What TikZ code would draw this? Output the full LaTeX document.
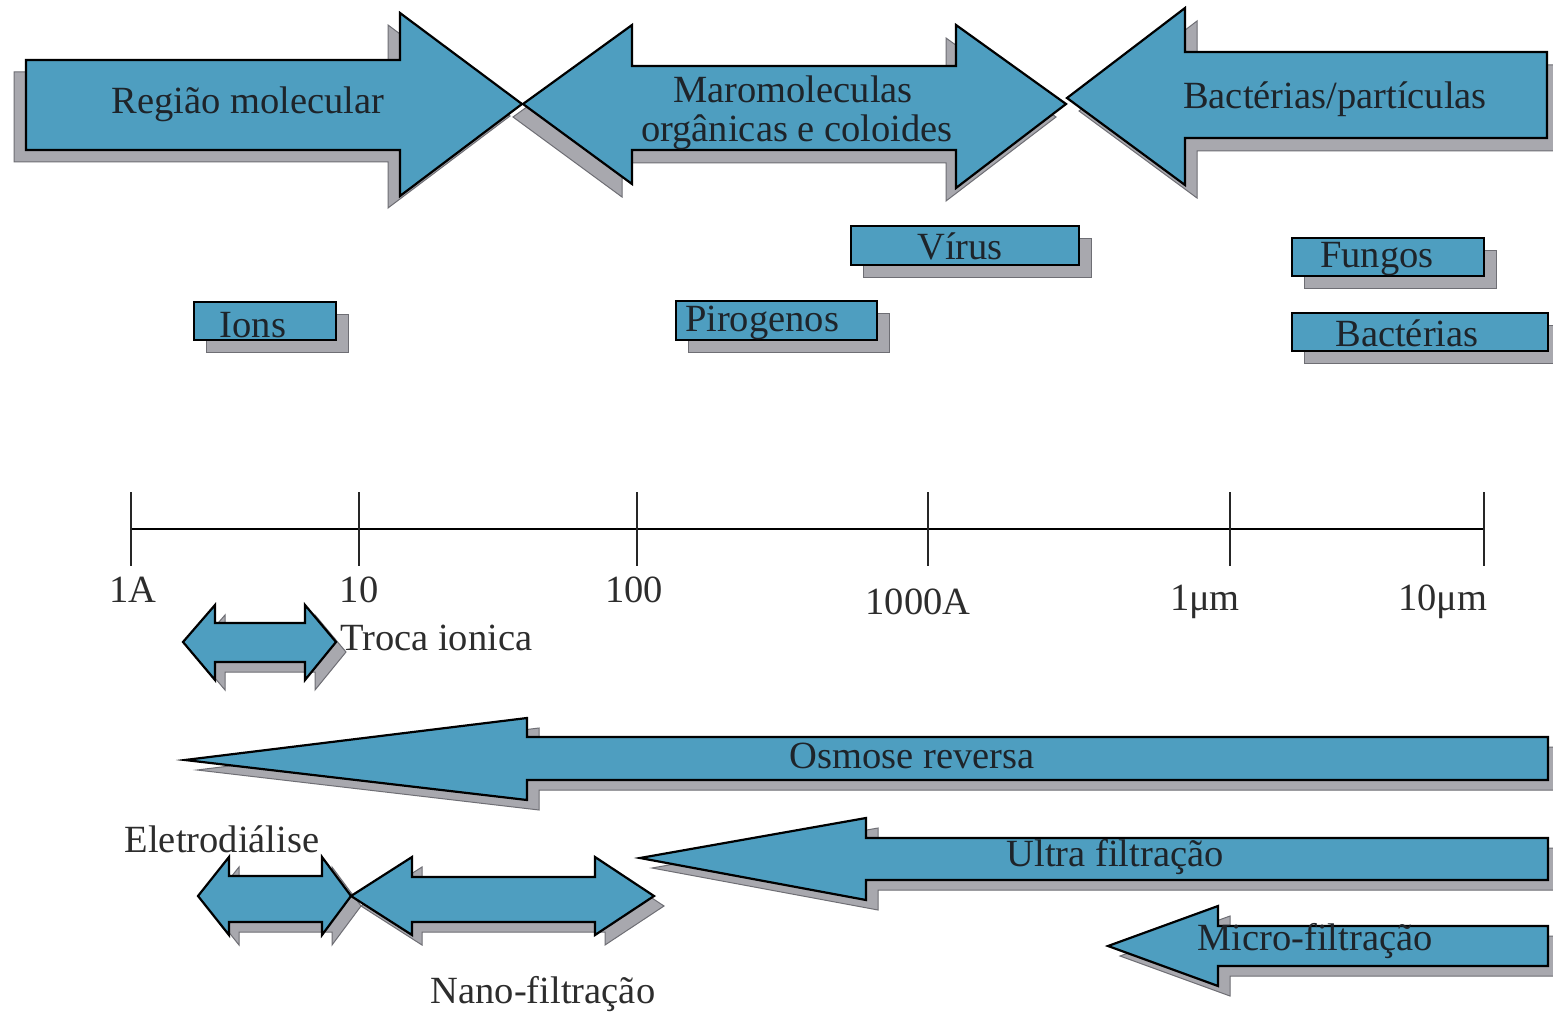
\documentclass[tikz,border=0pt]{standalone}
\usepackage{fontspec}
\setmainfont{Liberation Serif}
\definecolor{fillblue}{RGB}{78,158,192}
\definecolor{shadegray}{RGB}{168,168,174}
\definecolor{shadeline}{RGB}{110,110,116}
\definecolor{txtdark}{RGB}{30,36,42}
\definecolor{txtgray}{RGB}{45,45,45}
\newcommand\shadowedshape[2]{%
  \filldraw[shadegray, draw=shadeline, line width=1pt, shift={#1}] #2;
}
\newcommand\mainshape[1]{%
  \filldraw[fill=fillblue, draw=black, line width=2.2pt, line join=miter] #1;
}
\tikzset{
  lbl/.style={font=\fontsize{38.5}{40}\selectfont, text=txtdark, inner sep=0pt},
  plainlbl/.style={font=\fontsize{38.5}{40}\selectfont, text=txtgray, inner sep=0pt},
  axisline/.style={line width=1.8pt, black},
  tickline/.style={line width=1.2pt, black!85}
}
\begin{document}
\begin{tikzpicture}[x=1pt,y=-1pt]
\useasboundingbox (0,0) rectangle (1553,1014);
\fill[white] (0,0) rectangle (1553,1014);

% ---------- shadows ----------
\shadowedshape{(-12,12)}{(26,60) -- (400,60) -- (400,13) -- (522,104) -- (400,196) -- (400,150) -- (26,150) -- cycle}
\shadowedshape{(-10,13)}{(523,104) -- (632,25) -- (632,66) -- (956,66) -- (956,25) -- (1066,104) -- (956,188) -- (956,150) -- (632,150) -- (632,184) -- cycle}
\shadowedshape{(12,13)}{(1067,98) -- (1185,8) -- (1185,52) -- (1547,52) -- (1547,138) -- (1185,138) -- (1185,185) -- cycle}
\shadowedshape{(12,12)}{(194,302) rectangle (336,340)}
\shadowedshape{(12,12)}{(676,301) rectangle (877,340)}
\shadowedshape{(12,12)}{(851,226) rectangle (1079,265)}
\shadowedshape{(12,12)}{(1292,238) rectangle (1484,276)}
\shadowedshape{(12,12)}{(1292,313) rectangle (1548,351)}
\shadowedshape{(10,10)}{(183,642) -- (215,605) -- (215,623) -- (305,623) -- (305,605) -- (336,642) -- (305,680) -- (305,662) -- (215,662) -- (215,680) -- cycle}
\shadowedshape{(12,10)}{(185,760) -- (527,718) -- (527,737) -- (1548,737) -- (1548,780) -- (527,780) -- (527,800) -- cycle}
\shadowedshape{(10,10)}{(198,896) -- (229,857) -- (229,876) -- (322,876) -- (322,857) -- (351,896) -- (322,935) -- (322,922) -- (229,922) -- (229,935) -- cycle}
\shadowedshape{(10,10)}{(351,896) -- (412,857) -- (412,877) -- (595,877) -- (595,857) -- (654,896) -- (595,935) -- (595,922) -- (412,922) -- (412,935) -- cycle}
\shadowedshape{(12,10)}{(640,858) -- (866,818) -- (866,838) -- (1548,838) -- (1548,880) -- (866,880) -- (866,900) -- cycle}
\shadowedshape{(12,10)}{(1108,946) -- (1218,906) -- (1218,926) -- (1548,926) -- (1548,966) -- (1218,966) -- (1218,986) -- cycle}

% ---------- main shapes ----------
\mainshape{(26,60) -- (400,60) -- (400,13) -- (522,104) -- (400,196) -- (400,150) -- (26,150) -- cycle}
\mainshape{(523,104) -- (632,25) -- (632,66) -- (956,66) -- (956,25) -- (1066,104) -- (956,188) -- (956,150) -- (632,150) -- (632,184) -- cycle}
\mainshape{(1067,98) -- (1185,8) -- (1185,52) -- (1547,52) -- (1547,138) -- (1185,138) -- (1185,185) -- cycle}
\mainshape{(194,302) rectangle (336,340)}
\mainshape{(676,301) rectangle (877,340)}
\mainshape{(851,226) rectangle (1079,265)}
\mainshape{(1292,238) rectangle (1484,276)}
\mainshape{(1292,313) rectangle (1548,351)}
\mainshape{(183,642) -- (215,605) -- (215,623) -- (305,623) -- (305,605) -- (336,642) -- (305,680) -- (305,662) -- (215,662) -- (215,680) -- cycle}
\mainshape{(185,760) -- (527,718) -- (527,737) -- (1548,737) -- (1548,780) -- (527,780) -- (527,800) -- cycle}
\mainshape{(198,896) -- (229,857) -- (229,876) -- (322,876) -- (322,857) -- (351,896) -- (322,935) -- (322,922) -- (229,922) -- (229,935) -- cycle}
\mainshape{(351,896) -- (412,857) -- (412,877) -- (595,877) -- (595,857) -- (654,896) -- (595,935) -- (595,922) -- (412,922) -- (412,935) -- cycle}
\mainshape{(640,858) -- (866,818) -- (866,838) -- (1548,838) -- (1548,880) -- (866,880) -- (866,900) -- cycle}
\mainshape{(1108,946) -- (1218,906) -- (1218,926) -- (1548,926) -- (1548,966) -- (1218,966) -- (1218,986) -- cycle}

% ---------- labels on shapes ----------
\node[lbl] (regiao) at (248,104) {Região molecular};
\node[lbl] (maro1) at (793,89) {Maromoleculas};
\node[lbl] (maro2) at (797,132) {orgânicas e coloides};
\node[lbl] (bactpart) at (1335,99) {Bactérias/partículas};
\node[lbl] (ions) at (253,325) {Ions};
\node[lbl] (piro) at (762,323) {Pirogenos};
\node[lbl] (virus) at (960,246) {Vírus};
\node[lbl] (fungos) at (1377,259) {Fungos};
\node[lbl] (bact) at (1407,333) {Bactérias};
\node[lbl] (osmose) at (912,756) {Osmose reversa};
\node[lbl] (ultra) at (1115,857) {Ultra filtração};
\node[lbl] (micro) at (1315,941) {Micro-filtração};

% ---------- axis ----------
\coordinate (a0) at (131,529);
\coordinate (a5) at (1484,529);
\draw[axisline] (a0) -- (a5);
\foreach \tx/\nm in {131/t0,359/t1,637/t2,928/t3,1230/t4,1484/t5}{
  \coordinate (\nm top) at (\tx,492);
  \coordinate (\nm bot) at (\tx,566);
  \draw[tickline] (\nm top) -- (\nm bot);
}
\node[plainlbl] (l0) at (133,590) {1A};
\node[plainlbl] (l1) at (359,590) {10};
\node[plainlbl] (l2) at (634,590) {100};
\node[plainlbl] (l3) at (918,602) {1000A};
\node[plainlbl] (l4) at (1205,602) {1μm};
\node[plainlbl] (l5) at (1443,602) {10μm};

% ---------- plain labels ----------
\node[plainlbl, anchor=west] (troca) at (340,638) {Troca ionica};
\node[plainlbl] (eletro) at (222,839) {Eletrodiálise};
\node[plainlbl] (nano) at (543,994) {Nano-filtração};
\end{tikzpicture}
\end{document}
